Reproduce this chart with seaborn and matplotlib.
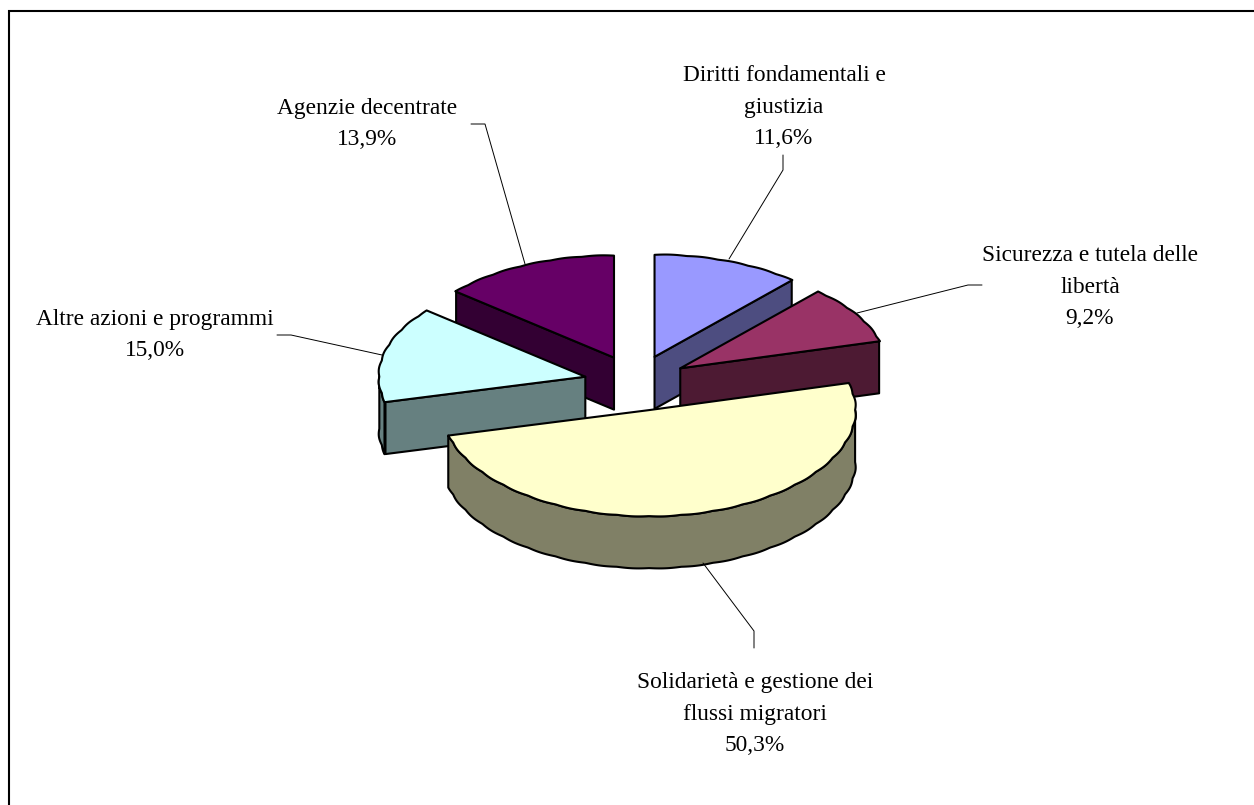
import numpy as np
import matplotlib
matplotlib.use("Agg")
import matplotlib.pyplot as plt
import seaborn as sns

categories = ["Diritti fondamentali e\ngiustizia", "Sicurezza e tutela delle\nlibertà",
              "Solidarietà e gestione dei\nflussi migratori", "Altre azioni e programmi",
              "Agenzie decentrate"]
values = [11.6, 9.2, 50.3, 15.0, 13.9]
palette = ["#9999FF", "#993366", "#FFFFCC", "#CCFFFF", "#660066"]

sns.set_theme(style="white")
plt.rcParams['font.family'] = ['Liberation Serif', 'DejaVu Serif']

fig, ax = plt.subplots(figsize=(12.54, 8.05), dpi=100)
ax.set_position([0, 0, 1, 1])
ax.set_xlim(0, 1254)
ax.set_ylim(805, 0)
ax.axis("off")
colors = sns.color_palette(palette)

CX, CY = 636, 383
RX, RY, H = 206, 104, 52
EX, EY = 52, 28
LW = 1.5
PERSP = 2


def ell(t):
    r = np.radians(t)
    return np.sin(r) * RX, -np.cos(r) * RY + PERSP * np.cos(r) ** 2


def rim(t0, t1):
    """Faceted rim of the ellipse, angles in degrees clockwise from the top."""
    n = max(int(abs(t1 - t0) * 2), 2)
    t = np.linspace(t0, t1, n)
    bump = 1 + 0.005 * np.abs(np.sin(np.radians(t) * 20))
    x, y = ell(t)
    return x * bump, y * bump


def face(xs, ys, col):
    ax.fill(xs, ys, facecolor=col, edgecolor="black", lw=LW, joinstyle="round")


angles = np.concatenate([[0], np.cumsum(values) / np.sum(values) * 360])
slices = []
for i, col in enumerate(colors):
    a0, a1 = angles[i], angles[i + 1]
    mid = np.radians((a0 + a1) / 2)
    ox, oy = CX + EX * np.sin(mid), CY - EY * np.cos(mid)
    slices.append((i, a0, a1, ox, oy, col))

# paint back to front: Agenzie, Diritti, Altre, Sicurezza, Solidarietà
for idx in [4, 0, 3, 1, 2]:
    i, a0, a1, ox, oy, col = slices[idx]
    dark = tuple(c * 0.5 for c in col)
    for a, vis in ((a0, np.sin(np.radians(a0)) < -1e-6), (a1, np.sin(np.radians(a1)) > 1e-6)):
        if vis:
            ex, ey = ell(a)
            face([ox, ox + ex, ox + ex, ox], [oy, oy + ey, oy + ey + H, oy + H], dark)
    s0, s1 = max(a0, 90), min(a1, 270)
    if s1 > s0:
        x, y = rim(s0, s1)
        face(np.r_[ox + x, (ox + x)[::-1]], np.r_[oy + y, (oy + y + H)[::-1]], dark)
    x, y = rim(a0, a1)
    face(np.r_[ox, ox + x], np.r_[oy, oy + y], col)

# leader lines
leaders = [
    ([783, 783, 729], [155, 170, 259]),
    ([982, 968, 857], [285, 285, 313]),
    ([754, 754, 703], [648, 631, 563]),
    ([277, 291, 382], [335, 335, 355]),
    ([471, 485, 525], [124, 124, 264]),
]
for xs, ys in leaders:
    ax.plot(xs, ys, color="black", lw=0.7, solid_joinstyle="miter")

# labels
label_xy = [(784, 107), (1090, 287), (755, 714), (155, 335), (367, 124)]
for cat, v, (x, y) in zip(categories, values, label_xy):
    txt = f"{cat}\n{v:.1f}%".replace(".", ",")
    ax.text(x, y, txt, ha="center", va="center", fontsize=16.8, color="black", linespacing=1.65)

# chart-area border
ax.plot([9, 9, 1254], [805, 11, 11], color="black", lw=1.5, solid_joinstyle="miter")

fig.savefig("out.png", dpi=100, facecolor="white")
